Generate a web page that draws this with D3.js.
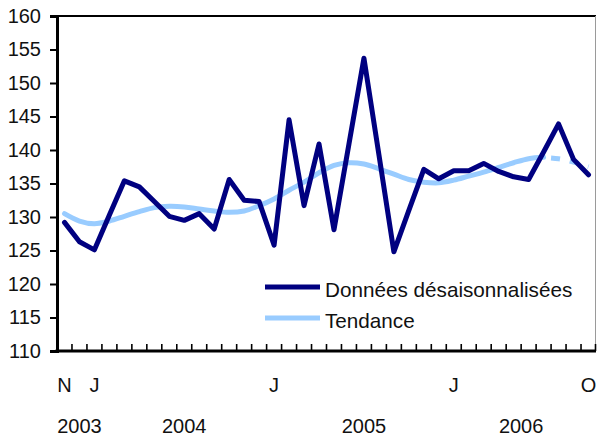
<!DOCTYPE html>
<html>
<head>
<meta charset="utf-8">
<script src="https://cdn.jsdelivr.net/npm/d3@7"></script>
<style>
  html, body { margin: 0; padding: 0; background: #fff; }
  svg { display: block; font-family: "Liberation Sans", Arial, sans-serif; }
</style>
</head>
<body>
<svg id="chart" width="597" height="438"></svg>
<script>
// ---- data ----
const months = [
  "2003-11","2003-12",
  "2004-01","2004-02","2004-03","2004-04","2004-05","2004-06","2004-07","2004-08","2004-09","2004-10","2004-11","2004-12",
  "2005-01","2005-02","2005-03","2005-04","2005-05","2005-06","2005-07","2005-08","2005-09","2005-10","2005-11","2005-12",
  "2006-01","2006-02","2006-03","2006-04","2006-05","2006-06","2006-07","2006-08","2006-09","2006-10"
];
const seasonallyAdjusted = [
  129.2, 126.3, 125.1, 130.3, 135.4, 134.5, 132.3, 130.1, 129.5, 130.5, 128.2, 135.6,
  132.5, 132.3, 125.8, 144.5, 131.7, 140.9, 128.1, 140.9, 153.7, 139.3, 124.8, 131.0,
  137.1, 135.7, 136.9, 136.9, 138.0, 136.8, 136.0, 135.6, 139.7, 143.9, 138.6, 136.3
];
const trend = [
  130.5, 129.4, 129.0, 129.4, 130.1, 130.8, 131.4, 131.6, 131.5, 131.2, 130.9, 130.7,
  130.9, 131.7, 132.7, 134.0, 135.2, 136.6, 137.7, 138.1, 137.9, 137.2, 136.4, 135.6,
  135.2, 135.1, 135.5, 136.1, 136.7, 137.4, 138.1, 138.7, 138.9, 138.7, 138.2, 137.5
];
const yTicks = [110, 115, 120, 125, 130, 135, 140, 145, 150, 155, 160];
const monthLetters = ["J","F","M","A","M","J","J","A","S","O","N","D"];
const shownMonths = ["2003-11","2004-01","2005-01","2006-01","2006-10"];
const years = ["2003","2004","2005","2006"];
const seriesNames = ["Données désaisonnalisées", "Tendance"];
const colors = ["#000080", "#99CCFF"];

(function () {
// ---- layout ----
const svg = d3.select("#chart");
const mLeft = 57, mRight = 596, mTop = 16, mBottom = 351;

const x = d3.scaleBand().domain(d3.range(months.length)).range([mLeft, mRight]).padding(0);
const cx = i => x(i) + x.bandwidth() / 2;
const y = d3.scaleLinear().domain([110, 160]).range([mBottom, mTop]);

// plot border (top black, right grey)
svg.append("line").attr("x1", mLeft).attr("x2", mRight).attr("y1", mTop).attr("y2", mTop)
  .attr("stroke", "#000").attr("stroke-width", 2);
svg.append("line").attr("x1", mRight - 0.5).attr("x2", mRight - 0.5).attr("y1", mTop).attr("y2", mBottom)
  .attr("stroke", "#9a9a9a").attr("stroke-width", 1);

// y axis
const yAxis = d3.axisLeft(y).tickValues(yTicks).tickSize(7).tickPadding(9).tickFormat(d3.format("d"));
const gy = svg.append("g").attr("transform", `translate(${mLeft},0)`).call(yAxis);
gy.select(".domain").attr("stroke", "#000").attr("stroke-width", 3);
gy.selectAll(".tick line").attr("stroke", "#000").attr("stroke-width", 2);
gy.selectAll(".tick text").attr("font-size", 20).attr("fill", "#111")
  .attr("font-family", "Liberation Sans, Arial, sans-serif");

// x axis with inward ticks at category boundaries
const gx = svg.append("g");
gx.append("line").attr("x1", mLeft - 1.5).attr("x2", mRight).attr("y1", mBottom).attr("y2", mBottom)
  .attr("stroke", "#000").attr("stroke-width", 3);
gx.selectAll("line.tk").data(d3.range(1, months.length + 1)).join("line")
  .attr("class", "tk")
  .attr("x1", i => i < months.length ? x(i) : mRight - 0.5)
  .attr("x2", i => i < months.length ? x(i) : mRight - 0.5)
  .attr("y1", mBottom).attr("y2", mBottom - 7)
  .attr("stroke", "#000").attr("stroke-width", 1.6);

// month letters
gx.selectAll("text.m").data(shownMonths).join("text")
  .attr("class", "m")
  .attr("x", m => cx(months.indexOf(m)))
  .attr("y", 392)
  .attr("text-anchor", "middle")
  .attr("font-size", 20).attr("fill", "#111")
  .text(m => monthLetters[+m.split("-")[1] - 1]);

// year labels
const yearAnchor = { "2003": 1, "2004": 8, "2005": 20, "2006": 30.5 };
gx.selectAll("text.yr").data(years).join("text")
  .attr("class", "yr")
  .attr("x", yr => mLeft + x.bandwidth() * (yearAnchor[yr] + 0.5))
  .attr("y", 433)
  .attr("text-anchor", "middle")
  .attr("font-size", 20).attr("fill", "#111")
  .text(yr => yr);

// lines
const line = d3.line().x((d, i) => cx(i)).y(d => y(d));
const smooth = d3.line().x(d => cx(d.i)).y(d => y(d.v)).curve(d3.curveCatmullRom.alpha(0.5));

const trendPts = trend.map((v, i) => ({ i, v }));
const dashStart = 32;
svg.append("path").datum(trendPts.slice(0, dashStart + 1))
  .attr("d", smooth).attr("fill", "none")
  .attr("stroke", colors[1]).attr("stroke-width", 5).attr("stroke-linecap", "round");
svg.append("path").datum(trendPts.slice(dashStart))
  .attr("d", smooth).attr("fill", "none")
  .attr("stroke", colors[1]).attr("stroke-width", 5)
  .attr("stroke-dasharray", "9,10").attr("stroke-dashoffset", 11.5);

svg.append("path").datum(seasonallyAdjusted)
  .attr("d", line).attr("fill", "none")
  .attr("stroke", colors[0]).attr("stroke-width", 5)
  .attr("stroke-linejoin", "round").attr("stroke-linecap", "round");

// legend
const legend = svg.append("g");
seriesNames.forEach((name, k) => {
  const ly = 287 + k * 31;
  legend.append("line").attr("x1", 265).attr("x2", 320).attr("y1", ly).attr("y2", ly)
    .attr("stroke", colors[k]).attr("stroke-width", 5);
  legend.append("text").attr("x", 325).attr("y", ly + 10)
    .attr("font-size", 20.7).attr("fill", "#111").text(name);
});
})();
</script>
</body>
</html>
